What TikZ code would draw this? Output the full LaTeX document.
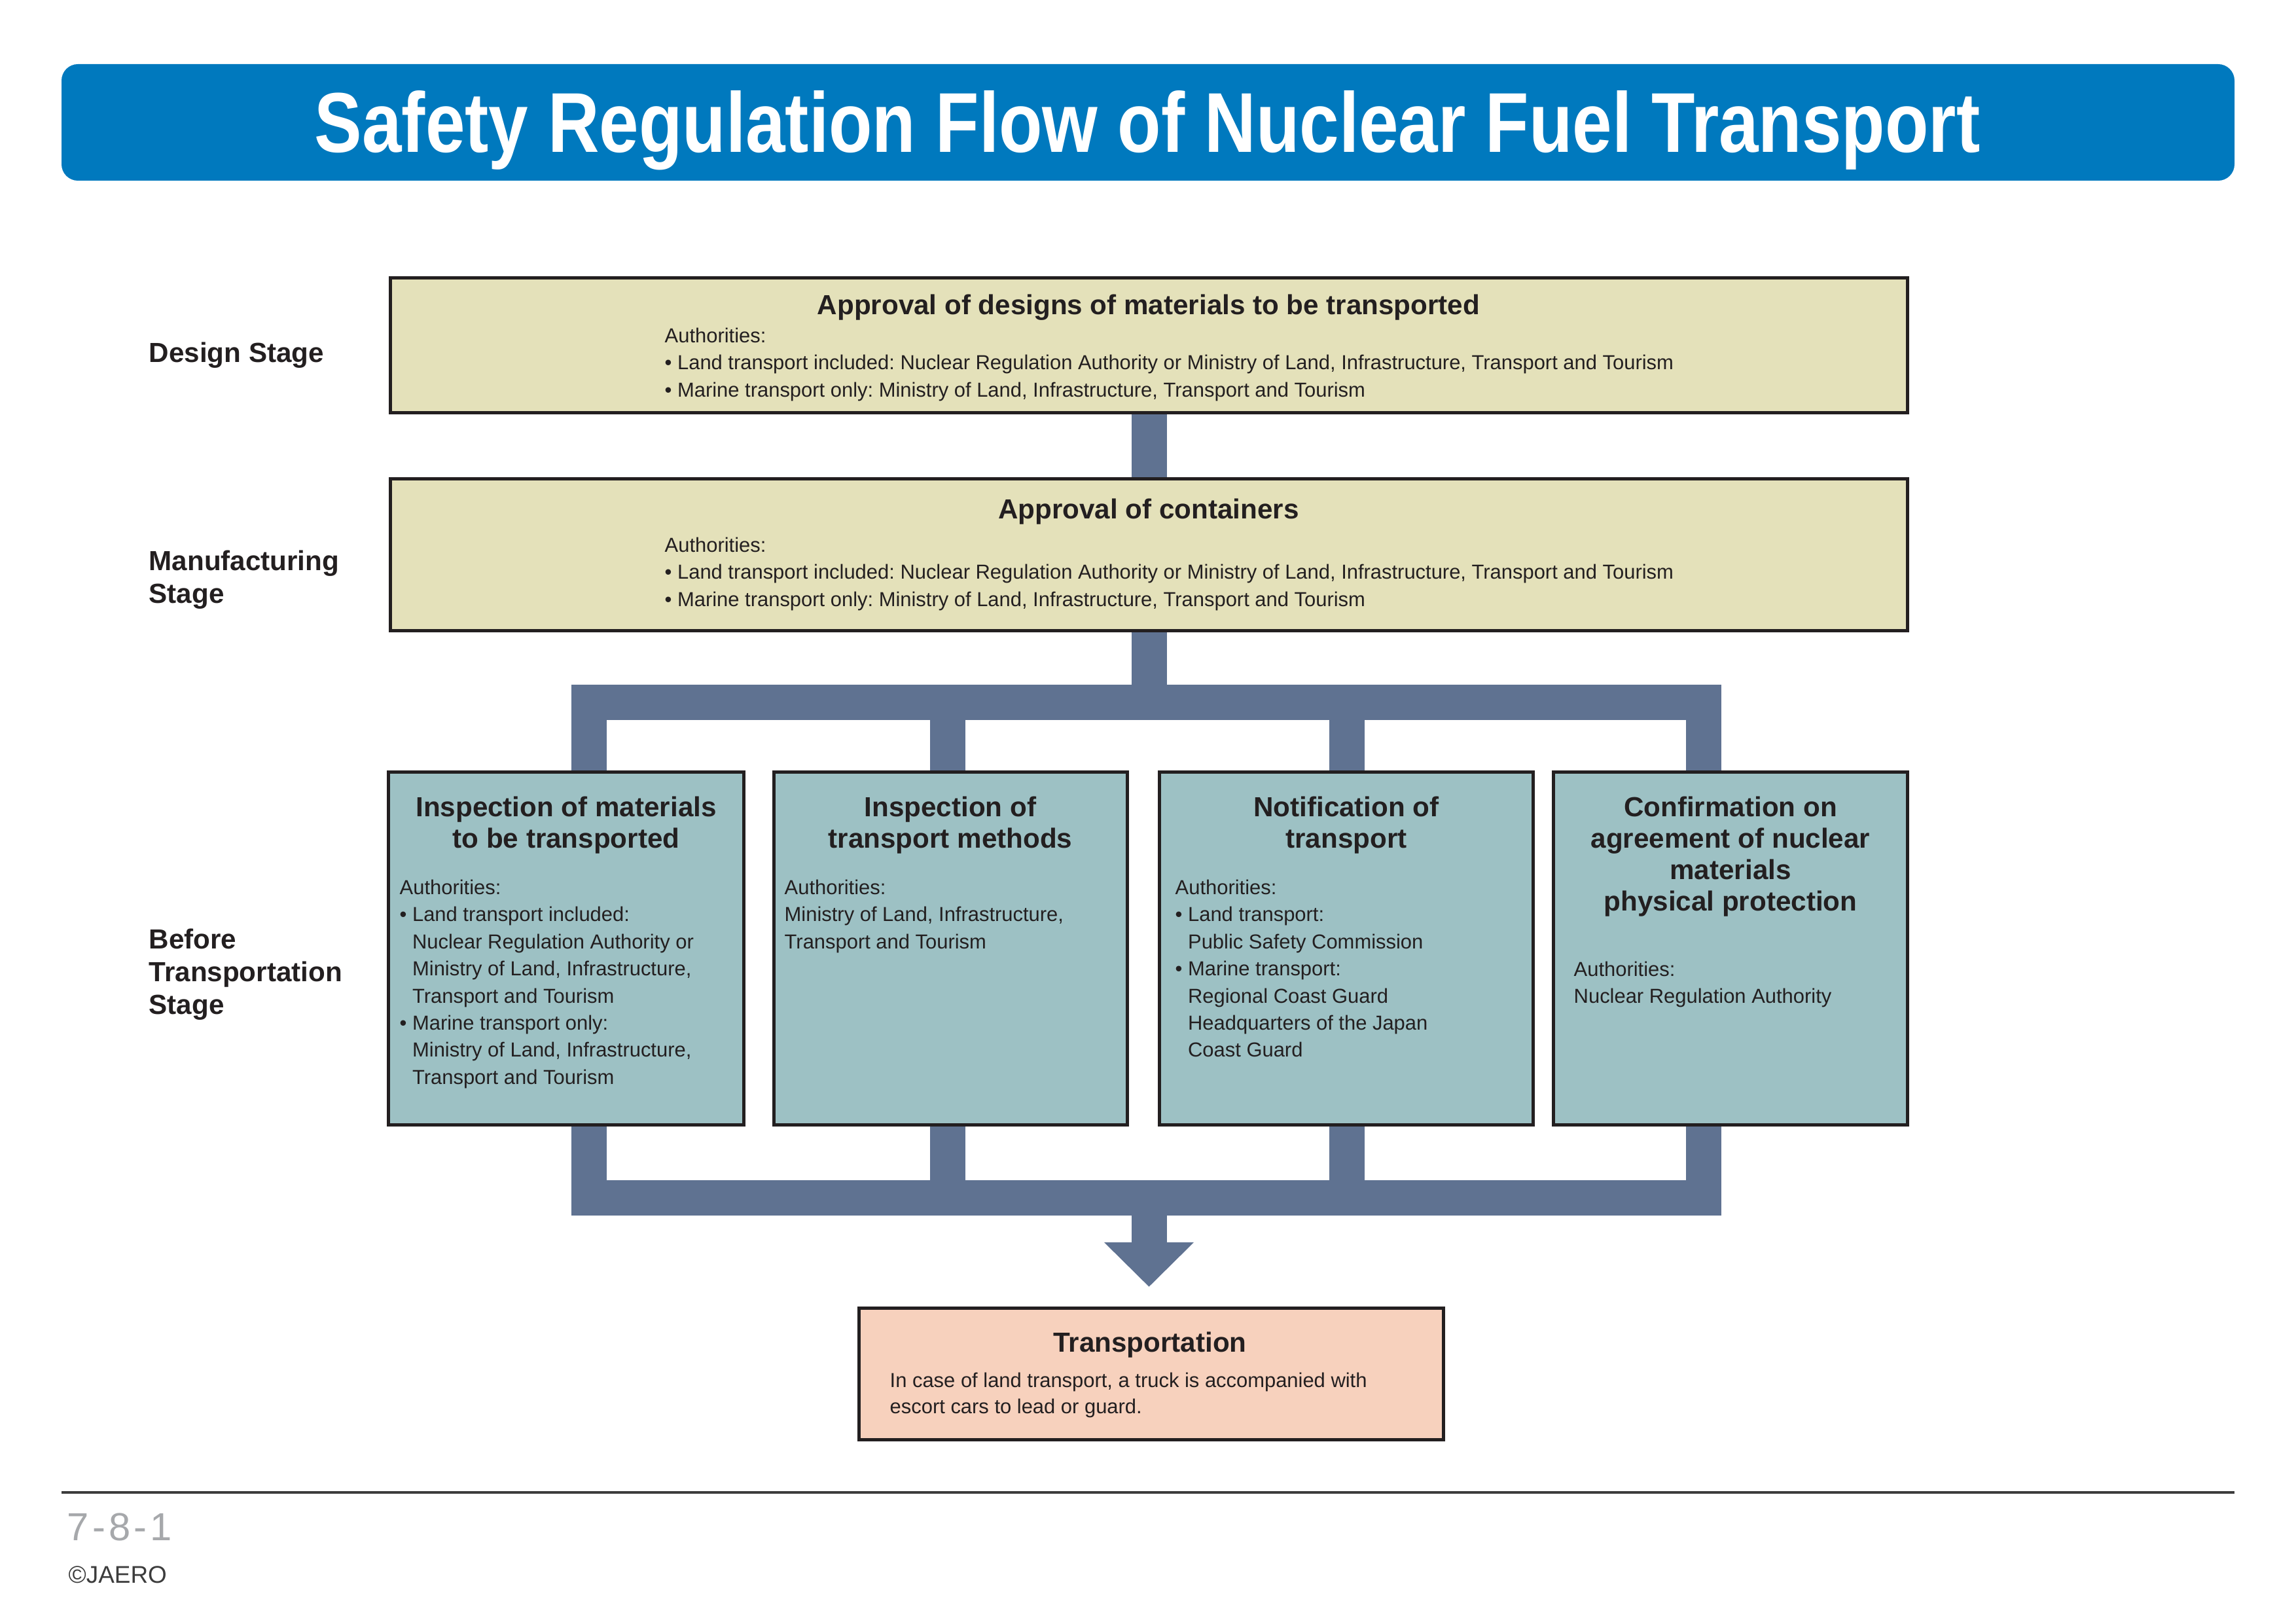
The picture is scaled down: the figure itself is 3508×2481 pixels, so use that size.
\documentclass[tikz,border=0pt]{standalone}
\usepackage{fontspec}
\setmainfont{Liberation Sans}
\usetikzlibrary{arrows.meta,calc}
\definecolor{titleblue}{RGB}{0,121,190}
\definecolor{beige}{RGB}{228,225,186}
\definecolor{boxteal}{RGB}{157,193,196}
\definecolor{peach}{RGB}{247,209,189}
\definecolor{barcol}{RGB}{95,114,145}
\definecolor{edgecol}{RGB}{35,31,32}
\definecolor{footgray}{RGB}{166,168,171}
\definecolor{copygray}{RGB}{60,60,60}
\pgfdeclarelayer{background}
\pgfsetlayers{background,main}
\newcommand{\bind}{\hphantom{•\ }}
\frenchspacing
\begin{document}
\begin{tikzpicture}[x=0.1mm,y=-0.1mm,
  box/.style={draw=edgecol, line width=1.5pt, inner sep=0pt, rectangle},
  dbox/.style={box, fill=beige},
  sbox/.style={box, fill=boxteal},
  tbox/.style={box, fill=peach},
  bar/.style={draw=barcol, line width=5.4mm, line join=miter},
  boxtitle/.style={font=\fontsize{12}{13.7}\selectfont\bfseries, align=center, inner sep=0pt, text=edgecol},
  body/.style={font=\fontsize{8.8}{11.8}\selectfont, align=left, inner sep=0pt, anchor=north west, text=edgecol},
  stage/.style={font=\fontsize{12}{14.2}\selectfont\bfseries, align=left, inner sep=0pt, text=edgecol}]
\useasboundingbox (0,0) rectangle (3508,2481);

% title bar
\node[fill=titleblue, rounded corners=2.5mm, minimum width=332mm, minimum height=17.8mm, inner sep=0pt] (titlebar) at (1754,187) {};
\node[anchor=base, inner sep=0pt, text=white] (titletext) at (1753,233)
  {\resizebox{254.4mm}{9.4mm}{\bfseries Safety Regulation Flow of Nuclear Fuel Transport}};

% stage labels
\node[stage, anchor=base west] (sdesign) at (227,553) {Design Stage};
\node[stage, anchor=north west] (smanu) at (227,840) {Manufacturing\\Stage};
\node[stage, anchor=north west] (sbefore) at (227,1418) {Before\\Transportation\\Stage};

% design boxes
\node[dbox, minimum width=231.8mm, minimum height=20.6mm] (d1) at (1755.5,527.5) {};
\node[dbox, minimum width=231.8mm, minimum height=23.2mm] (d2) at (1755.5,847.5) {};

% before-transportation boxes
\node[sbox, minimum width=54.3mm, minimum height=53.9mm] (bA) at (865,1449) {};
\node[sbox, minimum width=54.0mm, minimum height=53.9mm] (bB) at (1452.5,1449) {};
\node[sbox, minimum width=57.1mm, minimum height=53.9mm] (bC) at (2057,1449) {};
\node[sbox, minimum width=54.1mm, minimum height=53.9mm] (bD) at (2644,1449) {};

% transportation box
\node[tbox, minimum width=89.3mm, minimum height=20.1mm] (tr) at (1759,2099) {};

% texts of design boxes
\node[boxtitle, anchor=base] (d1t) at (1755,481) {Approval of designs of materials to be transported};
\node[body] (d1b) at (1015,500) {Authorities:\\
• Land transport included: Nuclear Regulation Authority or Ministry of Land, Infrastructure, Transport and Tourism\\
• Marine transport only: Ministry of Land, Infrastructure, Transport and Tourism};
\node[boxtitle, anchor=base] (d2t) at (1755,792) {Approval of containers};
\node[body] (d2b) at (1015,820) {Authorities:\\
• Land transport included: Nuclear Regulation Authority or Ministry of Land, Infrastructure, Transport and Tourism\\
• Marine transport only: Ministry of Land, Infrastructure, Transport and Tourism};

% texts of the four boxes
\node[boxtitle, anchor=north] (bAt) at (865,1216) {Inspection of materials\\to be transported};
\node[body] (bAb) at (610,1343) {Authorities:\\
• Land transport included:\\
\bind Nuclear Regulation Authority or\\
\bind Ministry of Land, Infrastructure,\\
\bind Transport and Tourism\\
• Marine transport only:\\
\bind Ministry of Land, Infrastructure,\\
\bind Transport and Tourism};

\node[boxtitle, anchor=north] (bBt) at (1452,1216) {Inspection of\\transport methods};
\node[body] (bBb) at (1198,1343) {Authorities:\\
Ministry of Land, Infrastructure,\\
Transport and Tourism};

\node[boxtitle, anchor=north] (bCt) at (2057,1216) {Notification of\\transport};
\node[body] (bCb) at (1795,1343) {Authorities:\\
• Land transport:\\
\bind Public Safety Commission\\
• Marine transport:\\
\bind Regional Coast Guard\\
\bind Headquarters of the Japan\\
\bind Coast Guard};

\node[boxtitle, anchor=north] (bDt) at (2644,1216) {Confirmation on\\agreement of nuclear\\materials\\physical protection};
\node[body] (bDb) at (2404,1468) {Authorities:\\
Nuclear Regulation Authority};

% transportation text
\node[boxtitle, anchor=base] (trt) at (1757,2065) {Transportation};
\node[body, font=\fontsize{8.8}{11.4}\selectfont] (trb) at (1359,2096) {In case of land transport, a truck is accompanied with\\
escort cars to lead or guard.};

% connectors
\coordinate (tb1) at (900,1073);
\coordinate (tb2) at (1448,1073);
\coordinate (tb3) at (2058,1073);
\coordinate (tb4) at (2603,1073);
\coordinate (bb1) at (900,1830);
\coordinate (bb2) at (1448,1830);
\coordinate (bb3) at (2058,1830);
\coordinate (bb4) at (2603,1830);
\begin{pgfonlayer}{background}
\draw[bar] (d1.south) -- (d2.north);
\draw[bar] (d2.south) -- (d2.south |- tb1);
\draw[bar] (bA.north -| tb1) -- (tb1) -- (tb4) -- (bD.north -| tb4);
\draw[bar] (tb2) -- (bB.north -| tb2);
\draw[bar] (tb3) -- (bC.north -| tb3);
\draw[bar] (bA.south -| bb1) -- (bb1) -- (bb4) -- (bD.south -| bb4);
\draw[bar] (bB.south -| bb2) -- (bb2);
\draw[bar] (bC.south -| bb3) -- (bb3);
\draw[bar, -{Triangle[width=13.3mm,length=6.8mm]}] (bb1 -| d2.south) -- ($(tr.north -| d2.south)+(0,-30)$);
\end{pgfonlayer}

% footer
\draw[draw=copygray, line width=1pt] (94,2280) -- (3414,2280);
\node[anchor=base west, inner sep=0pt, text=footgray, font=\fontsize{17}{20}\selectfont] (pnum) at (102,2353) {7\hspace{1.5pt}-\hspace{1.5pt}8\hspace{1.5pt}-\hspace{1.5pt}1};
\node[anchor=base west, inner sep=0pt, text=copygray, font=\fontsize{10.5}{12}\selectfont] (copy) at (104,2418) {©JAERO};
\end{tikzpicture}
\end{document}
